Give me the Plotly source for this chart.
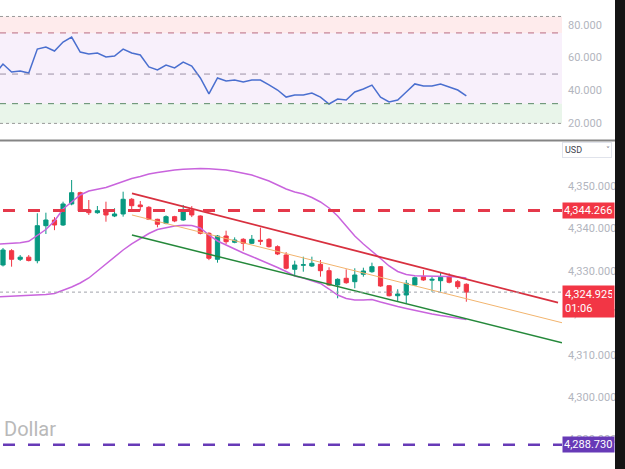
import plotly.graph_objects as go

# ---------------- data ----------------
candle_idx = list(range(55))
opens = [4331.35, 4334.74, 4332.70, 4333.20, 4332.37, 4340.66, 4342.00, 4340.83, 4345.81, 4348.48,
         4344.38, 4343.74, 4344.38, 4342.96, 4343.44, 4346.92, 4345.57, 4345.02, 4342.18, 4341.23,
         4342.80, 4342.01, 4344.38, 4342.96, 4338.86, 4332.70, 4338.22, 4336.73, 4337.44, 4336.49,
         4337.20, 4337.44, 4335.69, 4333.72, 4330.33, 4331.30, 4331.11, 4331.51, 4330.00, 4326.61,
         4328.20, 4327.39, 4329.15, 4329.76, 4330.95, 4326.44, 4324.07, 4324.24, 4326.61, 4328.58,
         4327.75, 4327.63, 4328.58, 4327.39, 4326.78]
highs = [4335.38, 4335.10, 4333.70, 4333.70, 4343.60, 4343.74, 4342.70, 4346.35, 4351.49, 4348.72,
         4346.75, 4345.33, 4346.35, 4344.79, 4348.72, 4347.20, 4346.52, 4345.30, 4342.30, 4343.10,
         4343.00, 4345.57, 4345.30, 4343.10, 4339.10, 4338.46, 4339.48, 4337.90, 4337.70, 4338.46,
         4340.19, 4337.70, 4336.00, 4334.40, 4332.37, 4333.32, 4333.32, 4332.53, 4330.80, 4328.20,
         4330.33, 4330.57, 4330.71, 4331.90, 4331.10, 4326.60, 4325.59, 4327.80, 4328.60, 4330.17,
         4328.50, 4329.52, 4329.38, 4327.80, 4327.00]
lows = [4331.00, 4330.95, 4332.30, 4332.20, 4331.75, 4338.70, 4339.60, 4340.60, 4345.50, 4343.90,
        4343.20, 4343.50, 4341.61, 4342.70, 4342.80, 4343.98, 4344.22, 4342.00, 4340.28, 4341.00,
        4341.50, 4341.80, 4342.70, 4338.60, 4332.50, 4331.90, 4336.30, 4336.50, 4334.74, 4336.30,
        4336.09, 4335.50, 4333.70, 4330.30, 4328.98, 4329.76, 4330.90, 4328.58, 4326.40, 4323.46,
        4326.90, 4325.83, 4328.58, 4329.50, 4326.20, 4323.90, 4322.65, 4322.27, 4326.40, 4327.60,
        4325.00, 4325.02, 4327.00, 4325.66, 4322.65]
closes = [4334.90, 4332.70, 4333.20, 4332.40, 4340.66, 4342.01, 4340.83, 4345.81, 4348.48, 4344.15,
          4343.74, 4344.22, 4343.20, 4343.44, 4346.92, 4345.40, 4345.17, 4342.18, 4341.00, 4342.80,
          4341.78, 4344.22, 4343.20, 4338.86, 4332.94, 4338.22, 4336.87, 4337.27, 4336.49, 4337.44,
          4337.00, 4335.69, 4333.96, 4330.57, 4331.35, 4331.40, 4331.75, 4330.00, 4326.61, 4327.96,
          4327.15, 4328.98, 4329.93, 4330.95, 4326.37, 4324.07, 4324.48, 4327.01, 4328.34, 4327.80,
          4327.95, 4328.43, 4327.25, 4326.21, 4324.925]

ind_idx = list(range(-1, 55))
bb_upper = [4336.21, 4336.33, 4336.49, 4336.63, 4336.97, 4338.46, 4339.76, 4341.78, 4344.62, 4346.28,
            4347.94, 4348.89, 4349.36, 4349.72, 4350.43, 4351.14, 4351.85, 4352.32, 4352.91, 4353.27,
            4353.63, 4353.86, 4354.03, 4354.17, 4354.22, 4354.17, 4354.10, 4353.86, 4353.51, 4353.15,
            4352.68, 4351.97, 4351.26, 4350.31, 4349.36, 4348.65, 4348.18, 4347.35, 4346.28, 4344.86,
            4342.96, 4340.59, 4338.22, 4336.33, 4334.67, 4332.89, 4331.11, 4329.81, 4329.10, 4328.79,
            4328.74, 4328.74, 4328.74, 4328.63, 4328.51, 4328.27]
bb_lower = [4323.77, 4323.84, 4323.89, 4323.96, 4324.05, 4324.17, 4324.34, 4324.60, 4325.31, 4326.14,
            4327.08, 4328.27, 4329.93, 4331.59, 4333.25, 4334.90, 4336.33, 4337.63, 4338.81, 4339.76,
            4340.24, 4340.59, 4340.76, 4340.71, 4340.12, 4338.46, 4337.04, 4336.09, 4335.02, 4334.19,
            4333.36, 4332.54, 4331.59, 4330.76, 4329.81, 4328.74, 4328.27, 4327.68, 4326.97, 4325.66,
            4324.24, 4323.41, 4323.06, 4323.06, 4323.17, 4322.58, 4321.99, 4321.52, 4321.04, 4320.57,
            4320.21, 4319.74, 4319.38, 4319.03, 4318.67, 4318.44]
rsi = [49.5, 56.1, 51.2, 51.9, 50.6, 65.2, 66.4, 64.0, 69.5, 72.5, 63.4, 62.2, 62.8, 60.4, 61.0,
       65.2, 62.8, 61.6, 54.3, 52.5, 55.5, 53.7, 57.3, 54.9, 47.6, 37.9, 47.6, 45.8, 46.4, 45.2,
       46.4, 46.4, 43.4, 40.3, 36.0, 37.3, 37.3, 38.5, 36.0, 31.8, 34.8, 34.2, 39.1, 40.9, 43.3,
       36.0, 33.0, 34.2, 39.1, 44.0, 42.7, 42.7, 44.0, 42.1, 40.3, 36.7]

channel_x = [15.03, 64.69]
channel_upper = [4348.34, 4322.41]
channel_mid_x = [15.03, 65.15]
channel_mid = [4343.20, 4317.67]
channel_lower = [4338.46, 4312.94]

resistance = 4344.266
support = 4288.730
last_price = 4324.925
countdown = "01:06"

rsi_levels = {"top": 85, "over": 75, "mid": 50, "under": 32, "bottom": 20}
main_ticks = [4290, 4300, 4310, 4320, 4330, 4340, 4350]
rsi_ticks = [20, 40, 60, 80]

# ---------------- geometry ----------------
W, H = 625, 469
PLOT_W = 562
X_RANGE = [-0.35, 65.15]
MAIN_RANGE = [4283.01, 4360.73]
RSI_RANGE = [9.91, 95.02]
main_top_px = 141
rsi_bot_px = 140

GREEN = "#089981"
RED = "#f23645"
PURPLE = "#673ab7"
BB = "#c964dd"
TICKC = "#b2b5be"
FONT = "Roboto, Arial, sans-serif"

fig = go.Figure()

fig.add_trace(go.Scatter(x=ind_idx, y=bb_upper, mode="lines", line=dict(color=BB, width=1.5),
                         xaxis="x", yaxis="y", hoverinfo="skip", showlegend=False))
fig.add_trace(go.Scatter(x=ind_idx, y=bb_lower, mode="lines", line=dict(color=BB, width=1.5),
                         xaxis="x", yaxis="y", hoverinfo="skip", showlegend=False))

fig.add_trace(go.Candlestick(
    x=candle_idx, open=opens, high=highs, low=lows, close=closes,
    increasing=dict(line=dict(color=GREEN, width=1), fillcolor=GREEN),
    decreasing=dict(line=dict(color=RED, width=1), fillcolor=RED),
    xaxis="x", yaxis="y", showlegend=False))

fig.add_trace(go.Scatter(x=channel_mid_x, y=channel_mid, mode="lines",
                         line=dict(color="#f2b46e", width=1), showlegend=False))
fig.add_trace(go.Scatter(x=channel_x, y=channel_upper, mode="lines",
                         line=dict(color="#d8303f", width=1.8), showlegend=False))
fig.add_trace(go.Scatter(x=channel_mid_x, y=channel_lower, mode="lines",
                         line=dict(color="#24883a", width=1.5), showlegend=False))

fig.add_trace(go.Scatter(x=ind_idx, y=rsi, mode="lines", line=dict(color="#4a6fcf", width=1.5),
                         xaxis="x2", yaxis="y2", showlegend=False))

shapes = []
# RSI background bands
bands = [("top", "over", "rgba(242,54,69,0.10)"),
         ("over", "under", "rgba(190,110,220,0.10)"),
         ("under", "bottom", "rgba(76,175,80,0.12)")]
for a, b, col in bands:
    shapes.append(dict(type="rect", xref="paper", yref="y2", x0=0, x1=1,
                       y0=rsi_levels[b], y1=rsi_levels[a], fillcolor=col, line_width=0, layer="below"))
for key, col, dash in [("top", "#9a9a9a", "dot"), ("bottom", "#9a9a9a", "dot"),
                       ("over", "#b86a80", "6px,6px"), ("mid", "#9c90a4", "6px,6px"),
                       ("under", "#5a8a66", "6px,6px")]:
    shapes.append(dict(type="line", xref="paper", yref="y2", x0=0, x1=1,
                       y0=rsi_levels[key], y1=rsi_levels[key],
                       line=dict(color=col, width=1, dash=dash)))

# price levels
shapes.append(dict(type="line", xref="x", yref="y", x0=0, x1=X_RANGE[1], y0=resistance, y1=resistance,
                   line=dict(color="#e5394b", width=3, dash="12px,13px")))
shapes.append(dict(type="line", xref="x", yref="y", x0=0, x1=X_RANGE[1], y0=support, y1=support,
                   line=dict(color=PURPLE, width=2.5, dash="12px,13px")))
shapes.append(dict(type="line", xref="paper", yref="y", x0=0, x1=1, y0=last_price, y1=last_price,
                   line=dict(color="#a0a3ab", width=1, dash="dot")))

# pane separator and right dark strip
shapes.append(dict(type="line", xref="paper", yref="paper", x0=0, x1=615 / PLOT_W,
                   y0=1 - 140.5 / H, y1=1 - 140.5 / H, line=dict(color="#858585", width=2)))
shapes.append(dict(type="rect", xref="paper", yref="paper", x0=615 / PLOT_W, x1=626 / PLOT_W,
                   y0=-0.01, y1=1.01, fillcolor="#141414", line_width=0))

annotations = []
def price_box(y, text, color):
    annotations.append(dict(xref="paper", yref="y", x=1, y=y, xanchor="left", yanchor="middle",
                            text=text, showarrow=False, bgcolor=color, borderpad=1, width=49,
                            align="left", font=dict(color="white", size=11, family=FONT)))

price_box(resistance, f"{resistance:,.3f}", RED)
price_box(support, f"{support:,.3f}", PURPLE)
annotations.append(dict(xref="paper", yref="y", x=1, y=last_price, xanchor="left", yanchor="top",
                        yshift=7, text=f"{last_price:,.3f}<br>{countdown}", showarrow=False,
                        bgcolor=RED, borderpad=2, width=47, align="left",
                        font=dict(color="white", size=11, family=FONT)))
annotations.append(dict(xref="paper", yref="paper", x=1, y=1 - 150 / H, xanchor="left",
                        yanchor="middle", text="USD", showarrow=False, bordercolor="#e0e3eb",
                        borderwidth=1, borderpad=2, width=44, align="left",
                        font=dict(color="#434651", size=9, family=FONT)))
annotations.append(dict(xref="paper", yref="paper", x=608 / PLOT_W, y=1 - 150 / H, xanchor="center",
                        yanchor="middle", text="˅", showarrow=False,
                        font=dict(color="#787b86", size=8, family="DejaVu Sans")))
annotations.append(dict(xref="paper", yref="y", x=0, y=4292.5, xanchor="left", yanchor="middle",
                        xshift=2, text="Dollar", showarrow=False,
                        font=dict(color="#b9b9b9", size=20, family=FONT)))

fig.update_layout(
    width=W, height=H,
    margin=dict(l=0, r=W - PLOT_W, t=0, b=0),
    paper_bgcolor="white", plot_bgcolor="white",
    showlegend=False,
    xaxis=dict(range=X_RANGE, visible=False, anchor="y", domain=[0, 1], rangeslider=dict(visible=False)),
    xaxis2=dict(range=X_RANGE, visible=False, anchor="y2", domain=[0, 1], matches="x"),
    yaxis=dict(domain=[0, 1 - main_top_px / H], range=MAIN_RANGE, side="right",
               tickvals=main_ticks, tickformat=",.3f", showgrid=False, zeroline=False,
               ticks="", ticklabelstandoff=5, tickfont=dict(color=TICKC, size=11, family=FONT)),
    yaxis2=dict(domain=[1 - rsi_bot_px / H, 1], range=RSI_RANGE, side="right", anchor="x2",
                tickvals=rsi_ticks, tickformat=".3f", showgrid=False, zeroline=False,
                ticks="", ticklabelstandoff=5, tickfont=dict(color=TICKC, size=11, family=FONT)),
    shapes=shapes, annotations=annotations,
)

fig.write_html("out.html")
